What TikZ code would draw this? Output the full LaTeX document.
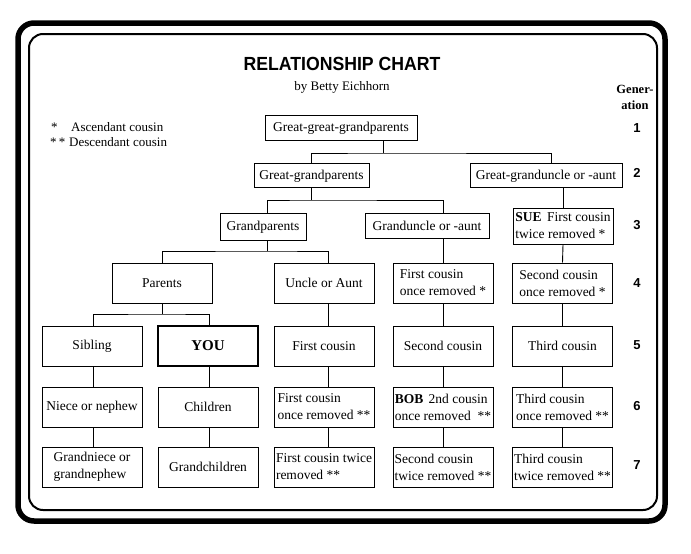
\documentclass[tikz,border=0pt]{standalone}
\usepackage{fontspec}
\usepackage{graphicx}
\setmainfont{Liberation Serif}
\newfontfamily\hsans{Liberation Sans}
\begin{document}
\begin{tikzpicture}[x=1pt,y=-1pt,
  box/.style={draw, line width=1pt, inner sep=0pt, align=left,
    font=\fontsize{13.5}{17}\selectfont},
  onel/.style={text height=8pt, text depth=0pt},
  rbox/.style={box, minimum width=100pt, minimum height=40pt},
  conn/.style={line width=0.9pt},
  gen/.style={font=\hsans\bfseries\fontsize{13}{15}\selectfont, inner sep=0pt},
  plain/.style={font=\fontsize{13}{16.5}\selectfont, inner sep=0pt}]
\useasboundingbox (0,0) rectangle (691,554);

% frames
\draw[line width=5.5pt, rounded corners=16pt] (18,23) rectangle (665,521);
\draw[line width=2pt, rounded corners=14pt] (29,34) rectangle (657,510);

% title
\node[inner sep=0pt] (title) at (342,64) {\hsans\bfseries\fontsize{19}{22}\selectfont\scalebox{0.93}[1]{RELATIONSHIP CHART}};
\node[plain] (sub) at (342,87) {by Betty Eichhorn};

% legend
\node[plain, anchor=base west] (s1) at (51,131) {*};
\node[plain, anchor=base west] (l1) at (71,131) {Ascendant cousin};
\node[plain, anchor=base west] (s2) at (50,146.5) {*\,*};
\node[plain, anchor=base west] (l2) at (69,146.5) {Descendant cousin};

% generation column
\node[align=center, inner sep=0pt, font=\bfseries\fontsize{12.5}{16}\selectfont] (genh) at (635,97) {Gener-\\ation};
\node[gen] (g1) at (637,128) {1};
\node[gen] (g2) at (637,173) {2};
\node[gen] (g3) at (637,225) {3};
\node[gen] (g4) at (637,283) {4};
\node[gen] (g5) at (637,345) {5};
\node[gen] (g6) at (637,406) {6};
\node[gen] (g7) at (637,465) {7};

% generation 1-3
\node[box, onel, minimum width=152pt, minimum height=25pt] (gggp) at (341,127.5) {Great-great-grandparents};
\node[box, onel, minimum width=115pt, minimum height=24pt] (ggp) at (311.5,175.5) {Great-grandparents};
\node[box, onel, minimum width=152pt, minimum height=24pt] (ggua) at (546,175) {Great-granduncle or -aunt};
\node[box, onel, minimum width=86pt, minimum height=27pt] (gp) at (263,226.5) {Grandparents};
\node[box, onel, minimum width=124pt, minimum height=25pt] (gua) at (427,226) {Granduncle or -aunt};
\node[box, minimum width=100pt, minimum height=36pt] (sue) at (563,226) {\textbf{SUE}\hspace{0.4em}First cousin\\twice removed *};

% generation 4
\node[rbox] (par) at (162,283) {Parents};
\node[rbox] (unc) at (324,283) {Uncle or Aunt};
\node[rbox] (fcoa) at (443,283) {First cousin\\once removed *};
\node[rbox] (scoa) at (562.5,283) {Second cousin\\once removed *};

% generation 5
\node[rbox] (sib) at (92,346) {Sibling};
\node[rbox, line width=2.4pt, font=\bfseries\fontsize{15}{18}\selectfont] (you) at (208,346) {YOU};
\node[rbox] (fc) at (324,346) {First cousin};
\node[rbox] (sc) at (443,346) {Second cousin};
\node[rbox] (tc) at (562.5,346) {Third cousin};

% generation 6
\node[rbox] (nn) at (92,407) {Niece or nephew};
\node[rbox] (ch) at (208,407) {Children};
\node[rbox] (fcod) at (324,407) {First cousin\\once removed **};
\node[rbox] (bob) at (443,407) {\textbf{BOB}\hspace{0.4em}2nd cousin\\once removed\hspace{0.5em}**};
\node[rbox] (tcod) at (562.5,407) {Third cousin\\once removed **};

% generation 7
\node[rbox] (gn) at (92,467) {Grandniece or\\grandnephew};
\node[rbox] (gc) at (208,467) {Grandchildren};
\node[rbox] (fctd) at (324,467) {First cousin twice\\removed **};
\node[rbox] (sctd) at (443,467) {Second cousin\\twice removed **};
\node[rbox] (tctd) at (562.5,467) {Third cousin\\twice removed **};

% connectors
\coordinate (b1) at (383,153);
\draw[conn] ([xshift=42pt]gggp.south) -- (b1);
\draw[conn] (ggp.north) |- (b1) -| ([xshift=5pt]ggua.north);

\coordinate (b2) at (311.5,200);
\draw[conn] (ggp.south) -- (b2);
\draw[conn] ([xshift=4pt]gp.north) |- (b2) -| ([xshift=16pt]gua.north);

\draw[conn] ([xshift=17pt]ggua.south) -- (sue.north);

\coordinate (b3) at (267,251);
\draw[conn] ([xshift=4pt]gp.south) -- (b3);
\draw[conn] (par.north) |- (b3) -| ([xshift=4pt]unc.north);

\draw[conn] ([xshift=16pt]gua.south) -- (fcoa.north);
\draw[conn] (sue.south) -- (scoa.north);

\coordinate (b4) at (162,314);
\draw[conn] (par.south) -- (b4);
\draw[conn] ([xshift=1pt]sib.north) |- (b4) -| ([xshift=1pt]you.north);

\draw[conn] ([xshift=1pt]sib.south) -- ([xshift=1pt]nn.north);
\draw[conn] ([xshift=1pt]nn.south) -- ([xshift=1pt]gn.north);
\draw[conn] ([xshift=1pt]you.south) -- ([xshift=1pt]ch.north);
\draw[conn] ([xshift=1pt]ch.south) -- ([xshift=1pt]gc.north);
\draw[conn] ([xshift=4pt]unc.south) -- ([xshift=4pt]fc.north);
\draw[conn] ([xshift=4pt]fc.south) -- ([xshift=4pt]fcod.north);
\draw[conn] ([xshift=4pt]fcod.south) -- ([xshift=4pt]fctd.north);
\draw[conn] (fcoa.south) -- (sc.north);
\draw[conn] (sc.south) -- (bob.north);
\draw[conn] (bob.south) -- (sctd.north);
\draw[conn] (scoa.south) -- (tc.north);
\draw[conn] (tc.south) -- (tcod.north);
\draw[conn] (tcod.south) -- (tctd.north);
\end{tikzpicture}
\end{document}
